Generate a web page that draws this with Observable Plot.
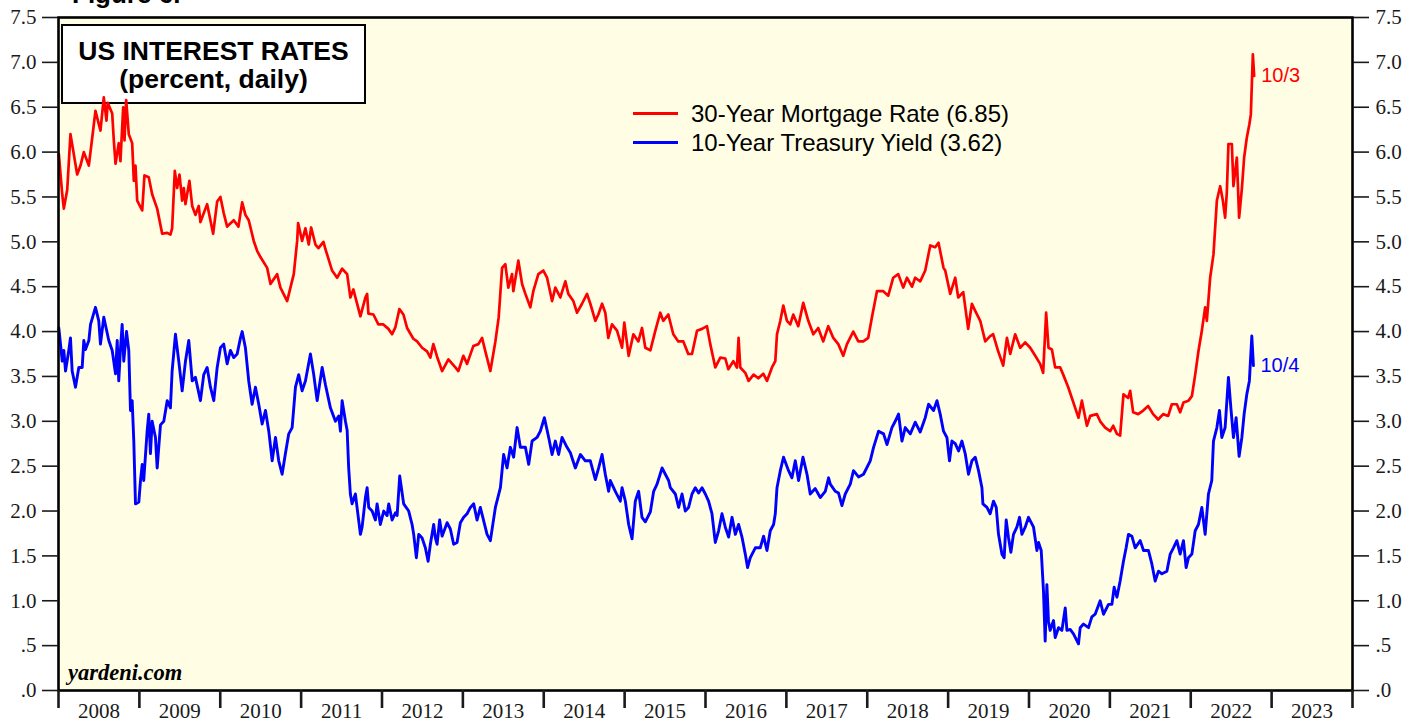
<!DOCTYPE html>
<html>
<head>
<meta charset="utf-8">
<script src="https://cdn.jsdelivr.net/npm/d3@7"></script>
<script src="https://cdn.jsdelivr.net/npm/@observablehq/plot@0.6"></script>
<style>
  html, body { margin: 0; padding: 0; background: #fff; overflow: hidden; }
  #wrap { position: relative; width: 1419px; height: 723px; overflow: hidden; }
  #wrap svg { position: absolute; left: 0; top: 0; }
  .ov { position: absolute; white-space: nowrap; }
  .sans { font-family: "Liberation Sans", Arial, sans-serif; }
</style>
</head>
<body>
<div id="wrap"></div>
<script>
// ---- DATA (decimal year, percent) ----
const mortgageSeries = [
[2008.004,5.98],[2008.046,5.53],[2008.066,5.37],[2008.108,5.58],[2008.148,6.20],[2008.231,5.75],[2008.272,5.85],[2008.313,6.00],[2008.375,5.85],[2008.417,6.16],[2008.457,6.46],[2008.519,6.24],[2008.560,6.61],[2008.593,6.35],[2008.609,6.55],[2008.664,6.43],[2008.684,6.13],[2008.705,5.87],[2008.745,6.10],[2008.766,5.90],[2008.800,6.50],[2008.816,6.13],[2008.837,6.58],[2008.869,6.20],[2008.911,6.10],[2008.931,5.68],[2008.952,5.85],[2008.973,5.46],
[2009.035,5.35],[2009.063,5.74],[2009.116,5.72],[2009.158,5.53],[2009.220,5.37],[2009.282,5.09],[2009.344,5.10],[2009.384,5.08],[2009.405,5.15],[2009.438,5.79],[2009.467,5.60],[2009.496,5.75],[2009.529,5.46],[2009.549,5.60],[2009.570,5.42],[2009.619,5.68],[2009.653,5.40],[2009.693,5.30],[2009.734,5.40],[2009.755,5.22],[2009.838,5.42],[2009.912,5.09],[2009.962,5.45],
[2010.002,5.50],[2010.043,5.32],[2010.085,5.17],[2010.167,5.24],[2010.225,5.17],[2010.271,5.44],[2010.311,5.30],[2010.352,5.24],[2010.414,5.01],[2010.456,4.90],[2010.497,4.83],[2010.580,4.71],[2010.621,4.53],[2010.703,4.64],[2010.744,4.49],[2010.827,4.34],[2010.868,4.49],[2010.909,4.64],[2010.951,5.01],[2010.963,5.21],
[2011.012,5.01],[2011.053,5.15],[2011.094,4.97],[2011.124,5.16],[2011.177,4.97],[2011.214,4.93],[2011.276,5.00],[2011.300,4.92],[2011.321,4.86],[2011.383,4.68],[2011.445,4.60],[2011.507,4.70],[2011.569,4.64],[2011.609,4.38],[2011.646,4.47],[2011.733,4.17],[2011.795,4.38],[2011.816,4.42],[2011.832,4.20],[2011.894,4.19],[2011.955,4.08],
[2012.017,4.08],[2012.079,4.03],[2012.125,3.97],[2012.166,4.05],[2012.215,4.25],[2012.265,4.19],[2012.310,4.04],[2012.388,3.92],[2012.434,3.89],[2012.496,3.82],[2012.557,3.78],[2012.598,3.71],[2012.635,3.86],[2012.681,3.72],[2012.743,3.56],[2012.821,3.69],[2012.907,3.60],[2012.944,3.56],
[2013.006,3.73],[2013.052,3.64],[2013.130,3.84],[2013.192,3.86],[2013.237,3.93],[2013.278,3.78],[2013.340,3.56],[2013.402,3.89],[2013.443,4.16],[2013.485,4.71],[2013.525,4.75],[2013.562,4.49],[2013.608,4.64],[2013.624,4.45],[2013.686,4.79],[2013.732,4.53],[2013.773,4.42],[2013.834,4.27],[2013.871,4.45],[2013.933,4.64],[2013.995,4.68],
[2014.041,4.60],[2014.103,4.34],[2014.143,4.49],[2014.205,4.38],[2014.267,4.56],[2014.304,4.42],[2014.366,4.34],[2014.412,4.21],[2014.473,4.31],[2014.535,4.42],[2014.576,4.31],[2014.638,4.12],[2014.675,4.19],[2014.721,4.31],[2014.761,4.21],[2014.798,3.93],[2014.844,4.08],[2014.906,4.01],[2014.968,3.82],[2014.996,4.10],
[2015.050,3.73],[2015.108,3.97],[2015.170,3.89],[2015.215,4.04],[2015.256,3.82],[2015.318,3.79],[2015.380,4.01],[2015.441,4.21],[2015.478,4.12],[2015.540,4.19],[2015.602,3.97],[2015.664,3.89],[2015.726,3.89],[2015.787,3.75],[2015.833,3.75],[2015.895,4.01],[2015.957,4.03],
[2016.018,4.06],[2016.059,3.86],[2016.121,3.60],[2016.183,3.71],[2016.245,3.70],[2016.282,3.58],[2016.344,3.67],[2016.389,3.60],[2016.409,3.93],[2016.430,3.60],[2016.492,3.54],[2016.533,3.45],[2016.595,3.52],[2016.653,3.48],[2016.714,3.53],[2016.760,3.45],[2016.822,3.60],[2016.863,3.67],[2016.884,3.97],[2016.925,4.12],[2016.962,4.29],
[2017.007,4.12],[2017.048,4.08],[2017.085,4.19],[2017.147,4.06],[2017.209,4.32],[2017.271,4.12],[2017.333,3.97],[2017.394,4.04],[2017.456,3.89],[2017.518,4.06],[2017.580,3.93],[2017.642,3.86],[2017.703,3.73],[2017.749,3.86],[2017.827,4.00],[2017.889,3.89],[2017.951,3.89],
[2018.012,3.93],[2018.058,4.16],[2018.120,4.45],[2018.198,4.45],[2018.260,4.40],[2018.321,4.60],[2018.383,4.64],[2018.445,4.49],[2018.491,4.60],[2018.553,4.50],[2018.593,4.60],[2018.655,4.56],[2018.717,4.68],[2018.779,4.96],[2018.840,4.94],[2018.881,4.99],[2018.943,4.71],[2018.964,4.68],
[2019.026,4.42],[2019.088,4.60],[2019.125,4.38],[2019.187,4.44],[2019.248,4.03],[2019.294,4.31],[2019.335,4.23],[2019.397,4.12],[2019.459,3.89],[2019.520,3.95],[2019.557,3.97],[2019.619,3.78],[2019.681,3.62],[2019.727,3.93],[2019.768,3.75],[2019.829,3.97],[2019.891,3.82],[2019.953,3.88],
[2020.015,3.82],[2020.077,3.73],[2020.138,3.64],[2020.175,3.54],[2020.212,4.21],[2020.241,3.82],[2020.283,3.80],[2020.324,3.60],[2020.386,3.60],[2020.423,3.52],[2020.485,3.38],[2020.530,3.26],[2020.571,3.15],[2020.612,3.04],[2020.654,3.23],[2020.716,2.95],[2020.757,3.06],[2020.839,3.08],[2020.880,3.00],[2020.942,2.93],
[2021.004,2.89],[2021.041,2.95],[2021.087,2.86],[2021.127,2.84],[2021.168,3.30],[2021.226,3.26],[2021.251,3.34],[2021.288,3.10],[2021.350,3.08],[2021.412,3.12],[2021.473,3.17],[2021.535,3.08],[2021.597,3.02],[2021.659,3.08],[2021.721,3.06],[2021.766,3.19],[2021.828,3.19],[2021.869,3.10],[2021.910,3.21],[2021.972,3.23],
[2022.014,3.28],[2022.055,3.52],[2022.095,3.78],[2022.137,4.01],[2022.178,4.27],[2022.199,4.12],[2022.240,4.60],[2022.281,4.86],[2022.323,5.46],[2022.364,5.62],[2022.397,5.46],[2022.425,5.27],[2022.446,5.55],[2022.466,6.09],[2022.508,6.09],[2022.528,5.62],[2022.570,5.94],[2022.598,5.27],[2022.632,5.59],[2022.660,5.94],[2022.693,6.16],[2022.725,6.31],[2022.743,6.42],[2022.768,7.09],[2022.784,6.85]
];

const treasurySeries = [
[2008.004,4.04],[2008.025,3.86],[2008.046,3.67],[2008.066,3.79],[2008.087,3.56],[2008.127,3.79],[2008.148,3.93],[2008.169,3.56],[2008.210,3.38],[2008.251,3.60],[2008.293,3.60],[2008.313,3.90],[2008.334,3.80],[2008.375,3.90],[2008.396,4.08],[2008.457,4.27],[2008.498,4.12],[2008.519,3.86],[2008.560,4.16],[2008.622,3.90],[2008.664,3.79],[2008.705,3.53],[2008.726,3.90],[2008.745,3.45],[2008.766,3.80],[2008.787,4.08],[2008.807,3.67],[2008.841,4.00],[2008.869,3.79],[2008.890,3.12],[2008.911,3.23],[2008.931,2.78],[2008.952,2.08],[2008.993,2.10],
[2009.014,2.34],[2009.035,2.52],[2009.054,2.34],[2009.096,2.89],[2009.116,3.08],[2009.137,2.64],[2009.158,3.00],[2009.199,2.82],[2009.220,2.48],[2009.261,2.96],[2009.302,3.00],[2009.344,3.23],[2009.384,3.15],[2009.405,3.56],[2009.446,3.97],[2009.487,3.67],[2009.529,3.34],[2009.570,3.67],[2009.611,3.90],[2009.653,3.45],[2009.693,3.49],[2009.755,3.23],[2009.796,3.52],[2009.838,3.60],[2009.879,3.38],[2009.920,3.23],[2009.962,3.60],
[2010.002,3.82],[2010.043,3.86],[2010.085,3.64],[2010.126,3.79],[2010.167,3.71],[2010.209,3.75],[2010.250,3.93],[2010.271,4.00],[2010.311,3.82],[2010.352,3.45],[2010.394,3.19],[2010.435,3.38],[2010.476,3.19],[2010.518,2.97],[2010.559,3.12],[2010.600,2.89],[2010.642,2.56],[2010.683,2.82],[2010.723,2.56],[2010.765,2.41],[2010.806,2.64],[2010.847,2.86],[2010.889,2.93],[2010.930,3.38],[2010.970,3.52],
[2011.012,3.34],[2011.053,3.45],[2011.115,3.75],[2011.156,3.52],[2011.198,3.23],[2011.260,3.60],[2011.300,3.41],[2011.362,3.15],[2011.424,3.00],[2011.465,3.06],[2011.486,2.89],[2011.507,3.23],[2011.548,3.00],[2011.569,2.90],[2011.588,2.48],[2011.609,2.19],[2011.630,2.08],[2011.671,2.19],[2011.733,1.74],[2011.754,1.82],[2011.795,2.15],[2011.816,2.26],[2011.836,2.04],[2011.878,2.00],[2011.918,1.90],[2011.939,2.08],[2011.980,1.85],
[2012.021,2.00],[2012.063,1.95],[2012.083,2.08],[2012.125,1.90],[2012.166,1.98],[2012.187,1.95],[2012.219,2.39],[2012.268,2.08],[2012.330,2.00],[2012.372,1.85],[2012.392,1.74],[2012.425,1.48],[2012.454,1.74],[2012.496,1.70],[2012.536,1.59],[2012.570,1.44],[2012.598,1.63],[2012.639,1.85],[2012.660,1.70],[2012.681,1.63],[2012.713,1.90],[2012.743,1.72],[2012.805,1.87],[2012.845,1.80],[2012.886,1.63],[2012.928,1.65],[2012.969,1.87],
[2013.010,1.93],[2013.052,1.97],[2013.093,2.04],[2013.134,2.08],[2013.175,1.90],[2013.216,2.04],[2013.299,1.74],[2013.340,1.67],[2013.402,2.04],[2013.464,2.26],[2013.504,2.63],[2013.546,2.48],[2013.587,2.71],[2013.628,2.60],[2013.670,2.93],[2013.711,2.71],[2013.773,2.71],[2013.814,2.52],[2013.856,2.78],[2013.917,2.82],[2013.958,2.89],
[2014.008,3.04],[2014.061,2.82],[2014.103,2.63],[2014.143,2.78],[2014.184,2.63],[2014.226,2.82],[2014.288,2.71],[2014.329,2.65],[2014.391,2.48],[2014.453,2.63],[2014.514,2.56],[2014.576,2.56],[2014.638,2.35],[2014.679,2.48],[2014.721,2.63],[2014.761,2.41],[2014.802,2.22],[2014.823,2.34],[2014.885,2.22],[2014.947,2.11],[2014.968,2.26],
[2015.009,2.11],[2015.050,1.85],[2015.092,1.69],[2015.132,2.11],[2015.173,2.22],[2015.215,1.93],[2015.256,1.88],[2015.318,1.99],[2015.359,2.22],[2015.401,2.30],[2015.463,2.48],[2015.503,2.41],[2015.544,2.34],[2015.565,2.26],[2015.627,2.19],[2015.668,2.04],[2015.710,2.19],[2015.750,2.00],[2015.791,2.04],[2015.833,2.19],[2015.874,2.26],[2015.915,2.20],[2015.957,2.26],[2015.998,2.19],
[2016.038,2.11],[2016.080,1.97],[2016.121,1.65],[2016.162,1.78],[2016.204,1.97],[2016.245,1.82],[2016.286,1.71],[2016.328,1.93],[2016.369,1.74],[2016.409,1.85],[2016.451,1.71],[2016.492,1.52],[2016.520,1.37],[2016.554,1.48],[2016.616,1.59],[2016.677,1.59],[2016.718,1.72],[2016.760,1.56],[2016.801,1.78],[2016.842,1.85],[2016.863,1.97],[2016.884,2.26],[2016.925,2.45],[2016.965,2.60],
[2017.027,2.45],[2017.069,2.37],[2017.110,2.56],[2017.151,2.34],[2017.205,2.60],[2017.255,2.41],[2017.295,2.19],[2017.357,2.25],[2017.419,2.15],[2017.481,2.22],[2017.522,2.37],[2017.543,2.30],[2017.604,2.22],[2017.645,2.20],[2017.687,2.06],[2017.728,2.19],[2017.790,2.30],[2017.830,2.45],[2017.892,2.38],[2017.954,2.41],
[2018.037,2.56],[2018.078,2.71],[2018.140,2.89],[2018.202,2.86],[2018.244,2.74],[2018.305,2.93],[2018.346,3.00],[2018.387,3.08],[2018.429,2.78],[2018.470,2.93],[2018.532,2.86],[2018.593,2.99],[2018.655,2.88],[2018.717,3.04],[2018.758,3.19],[2018.820,3.12],[2018.862,3.23],[2018.902,3.08],[2018.943,2.89],[2018.985,2.82],
[2019.017,2.56],[2019.047,2.78],[2019.088,2.75],[2019.129,2.67],[2019.171,2.78],[2019.211,2.64],[2019.252,2.41],[2019.294,2.56],[2019.335,2.60],[2019.376,2.45],[2019.418,2.26],[2019.430,2.08],[2019.480,2.04],[2019.520,1.97],[2019.561,2.11],[2019.595,2.04],[2019.623,1.74],[2019.665,1.52],[2019.693,1.48],[2019.718,1.90],[2019.747,1.70],[2019.776,1.54],[2019.808,1.74],[2019.850,1.82],[2019.883,1.93],[2019.912,1.74],[2019.953,1.82],[2019.994,1.93],
[2020.056,1.82],[2020.098,1.56],[2020.118,1.65],[2020.151,1.56],[2020.179,1.11],[2020.200,0.55],[2020.221,1.18],[2020.241,0.77],[2020.262,0.67],[2020.303,0.78],[2020.324,0.59],[2020.365,0.70],[2020.407,0.67],[2020.448,0.92],[2020.469,0.67],[2020.509,0.68],[2020.550,0.63],[2020.612,0.52],[2020.633,0.70],[2020.674,0.74],[2020.736,0.70],[2020.777,0.82],[2020.818,0.85],[2020.880,1.00],[2020.921,0.85],[2020.983,0.96],
[2021.025,0.96],[2021.053,1.15],[2021.087,1.04],[2021.127,1.22],[2021.168,1.44],[2021.201,1.59],[2021.230,1.74],[2021.272,1.72],[2021.313,1.59],[2021.375,1.67],[2021.416,1.56],[2021.477,1.56],[2021.519,1.41],[2021.560,1.22],[2021.601,1.33],[2021.643,1.30],[2021.705,1.33],[2021.746,1.52],[2021.786,1.59],[2021.828,1.67],[2021.869,1.52],[2021.910,1.67],[2021.943,1.37],[2021.972,1.48],
[2022.014,1.52],[2022.055,1.78],[2022.095,1.85],[2022.137,2.04],[2022.178,1.74],[2022.219,2.19],[2022.260,2.34],[2022.281,2.78],[2022.323,2.93],[2022.355,3.12],[2022.384,2.82],[2022.425,2.93],[2022.466,3.49],[2022.496,3.15],[2022.528,2.82],[2022.561,3.04],[2022.598,2.61],[2022.632,2.82],[2022.660,3.08],[2022.693,3.30],[2022.725,3.45],[2022.755,3.95],[2022.775,3.62]
];

const yearTicks = [2008,2009,2010,2011,2012,2013,2014,2015,2016,2017,2018,2019,2020,2021,2022,2023,2024];
const yearLabels = ["2008","2009","2010","2011","2012","2013","2014","2015","2016","2017","2018","2019","2020","2021","2022","2023"];
const yTicks = [0,0.5,1,1.5,2,2.5,3,3.5,4,4.5,5,5.5,6,6.5,7,7.5];
const seriesNames = ["30-Year Mortgage Rate (6.85)", "10-Year Treasury Yield (3.62)"];
const seriesColors = ["#FF0000", "#0000FF"];
const endLabels = ["10/3", "10/4"];
const titleLines = ["US INTEREST RATES", "(percent, daily)"];

// ---- build ----
const mortgage = mortgageSeries.map(([t, v]) => ({t, v}));
const treasury = treasurySeries.map(([t, v]) => ({t, v}));
const labelPos = yearLabels.map(s => +s + 0.5);
const fmtY = d => d < 1 ? d.toFixed(1).replace(/^0/, "") : d.toFixed(1);
const SANS = "'Liberation Sans', Arial, sans-serif";

const chart = Plot.plot({
  width: 1419,
  height: 723,
  marginLeft: 58,
  marginRight: 67,
  marginTop: 17,
  marginBottom: 33,
  x: {type: "linear", domain: [2008, 2024], label: null},
  y: {domain: [0, 7.5], label: null},
  style: {fontFamily: "'Liberation Serif', 'Times New Roman', serif", fontSize: "21px", color: "#1a1a1a", background: "transparent", overflow: "visible"},
  marks: [
    Plot.frame({fill: "#FFFEE4"}),
    Plot.line(mortgage, {x: "t", y: "v", stroke: seriesColors[0], strokeWidth: 2.7, strokeLinejoin: "round"}),
    Plot.line(treasury, {x: "t", y: "v", stroke: seriesColors[1], strokeWidth: 2.9, strokeLinejoin: "round"}),
    Plot.text(mortgage.slice(-1), {x: "t", y: "v", text: () => endLabels[0], dx: 7, textAnchor: "start", fill: seriesColors[0], fontFamily: SANS, fontSize: 20}),
    Plot.text(treasury.slice(-1), {x: "t", y: "v", text: () => endLabels[1], dx: 7, textAnchor: "start", fill: seriesColors[1], fontFamily: SANS, fontSize: 20}),
    Plot.frame({stroke: "#000", strokeWidth: 2.6}),
    Plot.axisY(yTicks, {anchor: "left", tickSize: 16, tickPadding: 6, tickFormat: fmtY, strokeWidth: 1.6, label: null}),
    Plot.axisY(yTicks, {anchor: "right", tickSize: 16, tickPadding: 7, tickFormat: fmtY, strokeWidth: 1.6, label: null}),
    Plot.axisX(yearTicks, {anchor: "bottom", tickSize: 18, tickFormat: () => "", strokeWidth: 2.6, label: null}),
    Plot.axisX(labelPos, {anchor: "bottom", tickSize: 0, tickPadding: 13, tickFormat: d => yearLabels[labelPos.indexOf(d)], label: null})
  ]
});

const wrap = document.getElementById("wrap");
wrap.appendChild(chart);

// Title box: inside the SVG, above the background fill but below the lines
const NS = "http://www.w3.org/2000/svg";
const bgFrame = chart.querySelector('[aria-label="frame"]');
const tg = document.createElementNS(NS, "g");
const rect = document.createElementNS(NS, "rect");
rect.setAttribute("x", 62); rect.setAttribute("y", 25);
rect.setAttribute("width", 303); rect.setAttribute("height", 78);
rect.setAttribute("fill", "#fff"); rect.setAttribute("stroke", "#000"); rect.setAttribute("stroke-width", 2);
tg.appendChild(rect);
titleLines.forEach((s, i) => {
  const t = document.createElementNS(NS, "text");
  t.setAttribute("x", 213.5); t.setAttribute("y", 60 + i * 28);
  t.setAttribute("text-anchor", "middle");
  t.setAttribute("font-family", SANS); t.setAttribute("font-weight", "bold");
  t.setAttribute("font-size", "26.5"); t.setAttribute("fill", "#000");
  t.textContent = s;
  tg.appendChild(t);
});
bgFrame.after(tg);

// Figure label (cut by the top edge in the reference)
const fig = document.createElement("div");
fig.className = "ov sans";
fig.style.cssText += "left:72px;top:-19px;font-size:26px;line-height:26px;font-weight:bold;color:#000;";
fig.textContent = "Figure 6.";
wrap.appendChild(fig);

// Legend
const legendY = [113, 142];
seriesNames.forEach((name, i) => {
  const ln = document.createElement("div");
  ln.className = "ov";
  ln.style.cssText += `left:633px;top:${legendY[i] - 1.5}px;width:45px;height:3px;background:${seriesColors[i]};`;
  wrap.appendChild(ln);
  const tx = document.createElement("div");
  tx.className = "ov sans";
  tx.style.cssText += `left:691px;top:${legendY[i] - 12.5}px;font-size:24px;line-height:25px;color:#000;`;
  tx.textContent = name;
  wrap.appendChild(tx);
});

// Source
const src = document.createElement("div");
src.className = "ov";
src.style.cssText += "left:68px;top:662px;font-family:'Liberation Serif','Times New Roman',serif;font-weight:bold;font-style:italic;font-size:22.5px;line-height:22px;color:#000;";
src.textContent = "yardeni.com";
wrap.appendChild(src);
</script>
</body>
</html>
